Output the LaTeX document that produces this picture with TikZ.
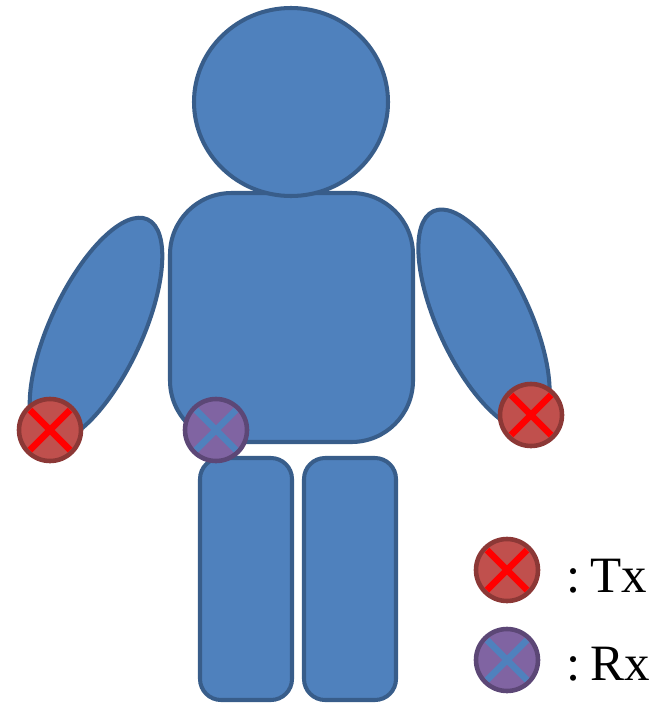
\documentclass[tikz,border=0pt]{standalone}
\usepackage{fontspec}
\setmainfont{Liberation Serif}
\usetikzlibrary{positioning}

\definecolor{bodyfill}{HTML}{4F81BD}
\definecolor{bodyline}{HTML}{385D8A}
\definecolor{txfill}{HTML}{C0504D}
\definecolor{txline}{HTML}{8C3836}
\definecolor{rxfill}{HTML}{8064A2}
\definecolor{rxline}{HTML}{5C4776}

\begin{document}
\begin{tikzpicture}[x=0.02cm, y=-0.02cm, line cap=round, line join=round,
    part/.style={fill=bodyfill, draw=bodyline, line width=2.3pt},
    txdot/.style={fill=txfill, draw=txline, line width=2.6pt},
    rxdot/.style={fill=rxfill, draw=rxline, line width=2.6pt},
    legend/.style={anchor=base west, inner sep=0pt, font=\fontsize{29}{34}\selectfont}]

  % parameters
  \def\rDot{31}    % radius of a sensor dot
  \def\xArm{20}    % half reach of the cross inside a dot

  % one sensor dot: #1 centre, #2 dot style, #3 cross colour
  \newcommand\sensor[3]{%
    \draw[#2] #1 circle[radius=\rDot];
    \draw[#3, line width=3.8pt, line cap=butt]
      #1 ++(-\xArm,-\xArm) -- ++(2*\xArm,2*\xArm)
      #1 ++(-\xArm,\xArm) -- ++(2*\xArm,-2*\xArm);
  }

  \useasboundingbox (0,0) rectangle (663,703);

  % arms
  \draw[part] (96,330) ellipse[x radius=122, y radius=46, rotate=65];
  \draw[part] (484,320) ellipse[x radius=120, y radius=46, rotate=-65];

  % torso and head
  \draw[part, rounded corners=35] (170,193) rectangle (413,442);
  \draw[part] (291,102) ellipse[x radius=97, y radius=94];

  % legs
  \draw[part, rounded corners=12] (200,458) rectangle (292,700);
  \draw[part, rounded corners=12] (304,458) rectangle (396,700);

  % transmitters on the wrists, receiver on the hip
  \sensor{(50,430)}{txdot}{red}
  \sensor{(531,415)}{txdot}{red}
  \sensor{(216,430)}{rxdot}{bodyfill}

  % legend
  \sensor{(507,570)}{txdot}{red}
  \sensor{(507,660)}{rxdot}{bodyfill}
  \node[legend] (tx) at (566,592) {:\kern0.2em Tx};
  \node[legend] (rx) at (566,680) {:\kern0.2em Rx};

\end{tikzpicture}
\end{document}
